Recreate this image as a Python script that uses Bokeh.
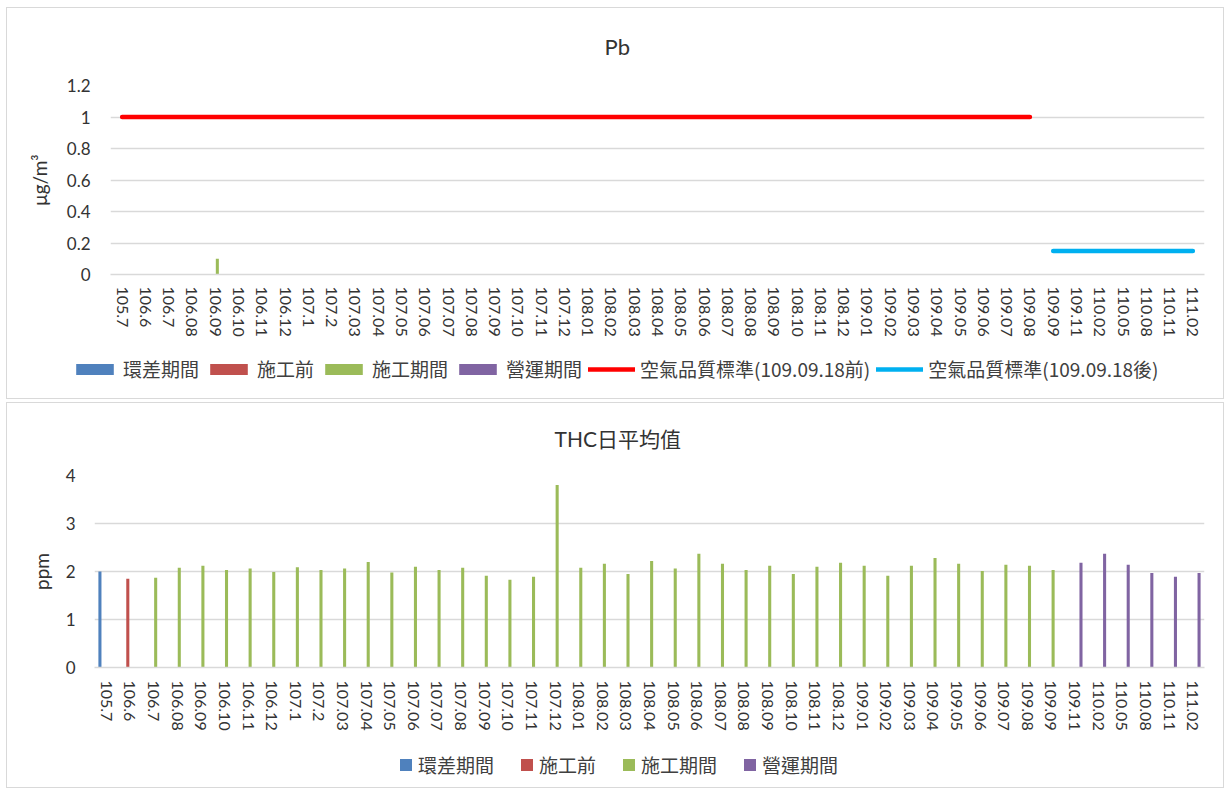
from bokeh.plotting import figure
from bokeh.models import (FactorRange, Range1d, FixedTicker, Legend, LegendItem,
                          ColumnDataSource, CustomJSTickFormatter)
from bokeh.transform import dodge
from bokeh.layouts import column
from bokeh.embed import file_html
from bokeh.resources import INLINE

# ---------------- data ----------------
categories = ["105.7", "106.6", "106.7", "106.08", "106.09", "106.10", "106.11", "106.12",
              "107.1", "107.2", "107.03", "107.04", "107.05", "107.06", "107.07", "107.08",
              "107.09", "107.10", "107.11", "107.12", "108.01", "108.02", "108.03", "108.04",
              "108.05", "108.06", "108.07", "108.08", "108.09", "108.10", "108.11", "108.12",
              "109.01", "109.02", "109.03", "109.04", "109.05", "109.06", "109.07", "109.08",
              "109.09", "109.11", "110.02", "110.05", "110.08", "110.11", "111.02"]

# period index of each category: 0=環差期間 1=施工前 2=施工期間 3=營運期間
period_of = [0, 1, 2, 2, 2, 2, 2, 2,
             2, 2, 2, 2, 2, 2, 2, 2,
             2, 2, 2, 2, 2, 2, 2, 2,
             2, 2, 2, 2, 2, 2, 2, 2,
             2, 2, 2, 2, 2, 2, 2, 2,
             2, 3, 3, 3, 3, 3, 3]

period_names = ["環差期間", "施工前", "施工期間", "營運期間"]
period_colors = ["#4F81BD", "#C0504D", "#9BBB59", "#8064A2"]

# Pb (μg/m3) – only one detected value
pb_values = [None, None, None, None, 0.1, None, None, None,
             None, None, None, None, None, None, None, None,
             None, None, None, None, None, None, None, None,
             None, None, None, None, None, None, None, None,
             None, None, None, None, None, None, None, None,
             None, None, None, None, None, None, None]

std_before_name = "空氣品質標準(109.09.18前)"
std_after_name = "空氣品質標準(109.09.18後)"
std_before = [1.0, 1.0, 1.0, 1.0, 1.0, 1.0, 1.0, 1.0,
              1.0, 1.0, 1.0, 1.0, 1.0, 1.0, 1.0, 1.0,
              1.0, 1.0, 1.0, 1.0, 1.0, 1.0, 1.0, 1.0,
              1.0, 1.0, 1.0, 1.0, 1.0, 1.0, 1.0, 1.0,
              1.0, 1.0, 1.0, 1.0, 1.0, 1.0, 1.0, 1.0,
              None, None, None, None, None, None, None]
std_after = [None, None, None, None, None, None, None, None,
             None, None, None, None, None, None, None, None,
             None, None, None, None, None, None, None, None,
             None, None, None, None, None, None, None, None,
             None, None, None, None, None, None, None, None,
             0.15, 0.15, 0.15, 0.15, 0.15, 0.15, 0.15]

# THC daily average (ppm)
thc_values = [2.00, 1.85, 1.87, 2.08, 2.12, 2.03, 2.06, 1.99,
              2.09, 2.03, 2.06, 2.20, 1.98, 2.10, 2.03, 2.08,
              1.91, 1.83, 1.89, 3.80, 2.08, 2.16, 1.95, 2.22,
              2.06, 2.37, 2.16, 2.03, 2.12, 1.95, 2.10, 2.18,
              2.12, 1.91, 2.12, 2.28, 2.16, 2.01, 2.14, 2.12,
              2.03, 2.18, 2.37, 2.14, 1.97, 1.89, 1.97]

pb_ticks = [0, 0.2, 0.4, 0.6, 0.8, 1.0, 1.2]
thc_ticks = [0, 1, 2, 3, 4]

# ---------------- style ----------------
TXT = "#404040"
TICK = "#333333"
GRID = "#D9D9D9"
LAT = "Lato"
CJK = "Noto Sans CJK TC"
slot_offsets = [-0.27, -0.09, 0.09, 0.27]
BAR_W = 0.13
W = 1218
NAN = float("nan")
BORDER_TOP = {"border": "1px solid #D9D9D9", "border-bottom": "none"}
BORDER_BOTTOM = {"border": "1px solid #D9D9D9", "border-top": "none"}


def base_figure(h, ymax, ticks, title, title_font, title_size, title_h, ylabel,
                mb_left, mb_right, mb_top, mb_bottom, title_offset):
    p = figure(width=W, height=h, output_backend="svg", toolbar_location=None,
               x_range=FactorRange(*categories, range_padding=0),
               y_range=Range1d(0, ymax),
               min_border_left=mb_left, min_border_right=mb_right,
               min_border_top=mb_top, min_border_bottom=mb_bottom,
               styles=BORDER_TOP)
    p.frame_align = False
    p.outline_line_color = None
    p.background_fill_color = "white"
    p.border_fill_color = "white"
    p.xgrid.grid_line_color = None
    p.ygrid.grid_line_color = GRID
    p.ygrid.grid_line_width = 1.3
    p.yaxis.ticker = FixedTicker(ticks=ticks)
    p.yaxis.axis_line_color = None
    p.yaxis.major_tick_line_color = None
    p.yaxis.minor_tick_line_color = None
    p.yaxis.major_tick_out = 0
    p.yaxis.major_label_text_font = LAT
    p.yaxis.major_label_text_font_size = "17px"
    p.yaxis.major_label_text_color = TICK
    p.yaxis.axis_label = ylabel
    p.yaxis.axis_label_text_font = LAT
    p.yaxis.axis_label_text_font_size = "19px"
    p.yaxis.axis_label_text_font_style = "normal"
    p.yaxis.axis_label_text_color = TICK
    p.xaxis.axis_line_color = GRID
    p.xaxis.axis_line_width = 1.3
    p.xaxis.major_tick_line_color = None
    p.xaxis.minor_tick_line_color = None
    p.xaxis.major_tick_out = 0
    p.xaxis.major_label_orientation = "vertical"
    p.xaxis.major_label_text_font = LAT
    p.xaxis.major_label_text_font_size = "16px"
    p.xaxis.major_label_text_color = TICK
    p.title.text = title
    p.title.align = "left"
    p.title.offset = title_offset
    p.title.vertical_align = "top"
    p.title.standoff = mb_top - 2 - title_h
    p.title.text_font = title_font
    p.title.text_font_size = title_size
    p.title.text_font_style = "normal"
    p.title.text_color = TICK
    return p


def bars(p, vals):
    rends = []
    for k in range(4):
        xs = [c for c, pe, v in zip(categories, period_of, vals) if pe == k and v is not None]
        ys = [v for c, pe, v in zip(categories, period_of, vals) if pe == k and v is not None]
        src = ColumnDataSource(dict(x=xs, y=ys))
        r = p.vbar(x=dodge("x", slot_offsets[k], range=p.x_range), top="y", bottom=0,
                   width=BAR_W, source=src, fill_color=period_colors[k],
                   line_color=None)
        rends.append(r)
    return rends


def legend_figure(h, with_lines, loc, gw, gh, spacing, font_size):
    # a strip that only carries the legend (proxy renderers hold no visible data)
    lf = figure(width=W, height=h, output_backend="svg", toolbar_location=None,
                x_range=Range1d(0, 1), y_range=Range1d(0, 1),
                x_axis_type=None, y_axis_type=None,
                min_border=0, styles=BORDER_BOTTOM)
    lf.frame_align = False
    lf.outline_line_color = None
    lf.grid.visible = False
    items = []
    for k in range(4):
        r = lf.vbar(x=[NAN], top=[NAN], width=0.1, fill_color=period_colors[k], line_color=None)
        items.append(LegendItem(label=period_names[k], renderers=[r]))
    if with_lines:
        r1 = lf.line(x=[NAN], y=[NAN], line_color="#FF0000", line_width=4.5, line_cap="round")
        r2 = lf.line(x=[NAN], y=[NAN], line_color="#00B0F0", line_width=4.5, line_cap="round")
        items.append(LegendItem(label=std_before_name, renderers=[r1]))
        items.append(LegendItem(label=std_after_name, renderers=[r2]))
    leg = Legend(items=items, orientation="horizontal", location=loc,
                 glyph_width=gw, glyph_height=gh, spacing=spacing, label_standoff=5,
                 padding=0, margin=0, border_line_color=None, background_fill_alpha=0,
                 label_text_font=CJK, label_text_font_size=font_size,
                 label_text_color=TXT)
    lf.add_layout(leg, "center")
    return lf


# ---------------- Pb chart ----------------
p1 = base_figure(340, 1.2, pb_ticks, "Pb", LAT, "22px", 26, "μg/m³",
                 103, 21, 76, 74, 494)
p1.yaxis.formatter = CustomJSTickFormatter(code="return tick.toFixed(1).replace(/\\.0$/, '');")
p1.yaxis.major_label_standoff = 20
p1.yaxis.axis_label_standoff = 13
p1.xaxis.major_label_standoff = 12

bars(p1, pb_values)
sb = ColumnDataSource(dict(x=[c for c, v in zip(categories, std_before) if v is not None],
                           y=[v for v in std_before if v is not None]))
sa = ColumnDataSource(dict(x=[c for c, v in zip(categories, std_after) if v is not None],
                           y=[v for v in std_after if v is not None]))
p1.line("x", "y", source=sb, line_color="#FF0000", line_width=4.5, line_cap="round")
p1.line("x", "y", source=sa, line_color="#00B0F0", line_width=4.5, line_cap="round")

l1 = legend_figure(52, True, (64, 17), 47, 14, 6, "19px")

# ---------------- THC chart ----------------
p2 = base_figure(339, 4, thc_ticks, "THC日平均值", f"{LAT}, '{CJK}'", "21px", 25, "ppm",
                 87, 21, 72, 75, 460)
p2.yaxis.major_label_standoff = 19
p2.yaxis.axis_label_standoff = 10
p2.xaxis.major_label_standoff = 13

bars(p2, thc_values)
l2 = legend_figure(47, False, (391, 10), 15, 15, 25, "19px")

layout = column(p1, l1, p2, l2, spacing=0, margin=(7, 0, 0, 6))
p2.margin = (3, 0, 0, 0)
open("out.html", "w").write(file_html(layout, INLINE))
